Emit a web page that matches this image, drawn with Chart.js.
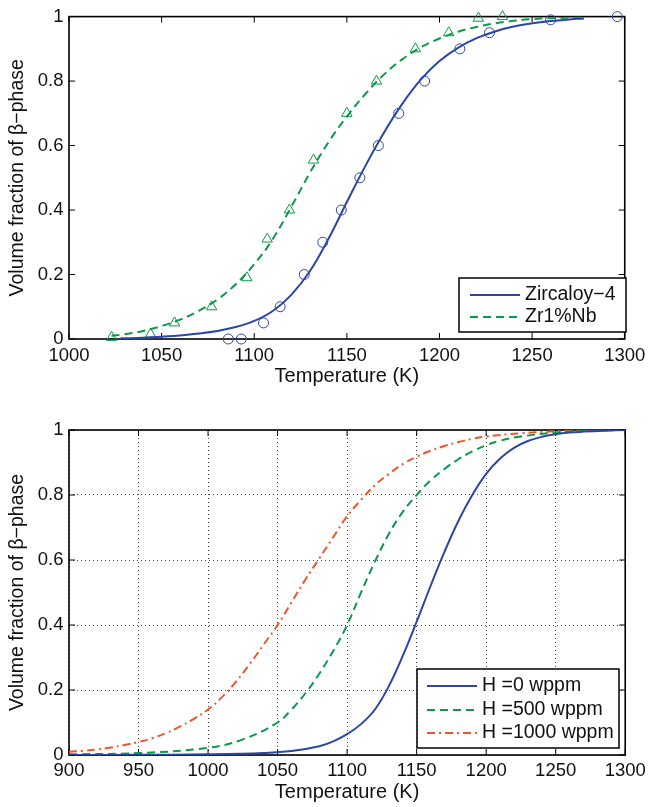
<!DOCTYPE html>
<html>
<head>
<meta charset="utf-8">
<script src="https://cdn.jsdelivr.net/npm/chart.js@4"></script>
<style>
body{margin:0;background:#fff;}
#wrap{position:relative;width:651px;height:807px;}
canvas{position:absolute;left:0;}
#c1{top:0}
#c2{top:400px}
</style>
</head>
<body>
<div id="wrap">
<canvas id="c1" width="651" height="400"></canvas>
<canvas id="c2" width="651" height="407"></canvas>
</div>
<script>
// top chart - measured points
const zircTempPts = [1086,1093,1105,1114,1127,1137,1147,1157,1167,1178,1192,1211,1227,1260,1296];
const zircFracPts = [0,0,0.05,0.1,0.2,0.3,0.4,0.5,0.6,0.7,0.8,0.9,0.95,0.99,1.0];
const nbTempPts = [1023,1044,1057,1077,1096,1107,1119,1132,1150,1166,1187,1205,1221,1234];
const nbFracPts = [0.005,0.015,0.05,0.1,0.19,0.31,0.4,0.555,0.7,0.8,0.9,0.95,0.995,1.0];

// top chart - fitted curves
const zircFitT = [1028,1040,1050,1060,1070,1080,1090,1100,1110,1120,1130,1140,1150,1160,1170,1180,1190,1200,1210,1220,1230,1240,1250,1260,1270,1278];
const zircFitY = [0.002,0.004,0.007,0.011,0.017,0.025,0.037,0.056,0.087,0.137,0.21,0.31,0.425,0.537,0.64,0.73,0.805,0.862,0.903,0.933,0.954,0.969,0.979,0.986,0.991,0.994];
const nbFitT = [1023,1030,1040,1050,1060,1070,1080,1090,1100,1110,1120,1130,1140,1150,1160,1170,1180,1190,1200,1210,1220,1230,1240,1250,1260,1278];
const nbFitY = [0.01,0.015,0.025,0.04,0.06,0.087,0.122,0.17,0.232,0.31,0.41,0.515,0.61,0.69,0.76,0.82,0.868,0.905,0.932,0.953,0.968,0.979,0.987,0.992,0.995,0.998];

// bottom chart - hydrogen content curves
const h0T = [900,950,1000,1040,1060,1080,1090,1100,1110,1120,1130,1140,1150,1160,1170,1180,1190,1200,1210,1220,1230,1240,1250,1260,1270,1285,1300];
const h0Y = [0,0.0005,0.002,0.006,0.012,0.027,0.042,0.064,0.095,0.14,0.212,0.305,0.41,0.52,0.625,0.72,0.8,0.865,0.912,0.945,0.966,0.979,0.987,0.992,0.995,0.998,1];
const h500T = [900,950,1000,1025,1050,1060,1070,1080,1090,1100,1110,1120,1130,1140,1150,1160,1170,1180,1190,1200,1210,1225,1250,1275,1300];
const h500Y = [0.002,0.006,0.022,0.048,0.1,0.14,0.19,0.25,0.32,0.4,0.5,0.595,0.68,0.748,0.8,0.845,0.88,0.91,0.934,0.953,0.967,0.98,0.992,0.998,1];
const h1000T = [900,910,920,930,940,950,960,970,980,990,1000,1010,1020,1030,1040,1050,1060,1070,1080,1090,1100,1110,1120,1130,1140,1150,1160,1170,1180,1190,1200,1225,1250,1300];
const h1000Y = [0.01,0.013,0.017,0.023,0.031,0.04,0.052,0.068,0.088,0.112,0.14,0.178,0.225,0.28,0.34,0.4,0.47,0.54,0.605,0.67,0.735,0.785,0.83,0.865,0.895,0.918,0.936,0.951,0.963,0.973,0.98,0.99,0.996,1];

const seriesLabels = ['Zircaloy\u22124','Zr1%Nb','H =0 wppm','H =500 wppm','H =1000 wppm'];

const blue = '#2b46a8';
const green = '#0a9a48';
const red = '#f0552b';
const fontFam = '"Liberation Sans", Arial, Helvetica, sans-serif';

function pts(xs, ys) {
    return xs.map((x, i) => ({x: x, y: ys[i]}));
}

// box + inward ticks like matlab
const framePlugin = {
    id: 'frame',
    beforeDatasetsDraw(chart) {
        const ctx = chart.ctx;
        const a = chart.chartArea;
        const sx = chart.scales.x, sy = chart.scales.y;
        ctx.save();
        ctx.strokeStyle = '#000';
        ctx.lineWidth = 1;
        ctx.beginPath();
        sx.ticks.forEach(t => {
            const p = sx.getPixelForValue(t.value);
            ctx.moveTo(p, a.bottom); ctx.lineTo(p, a.bottom - 6);
            ctx.moveTo(p, a.top); ctx.lineTo(p, a.top + 6);
        });
        sy.ticks.forEach(t => {
            const p = sy.getPixelForValue(t.value);
            ctx.moveTo(a.left, p); ctx.lineTo(a.left + 6, p);
            ctx.moveTo(a.right, p); ctx.lineTo(a.right - 6, p);
        });
        ctx.stroke();
        ctx.lineWidth = 1.6;
        ctx.strokeRect(a.left, a.top, a.right - a.left, a.bottom - a.top);
        ctx.restore();
    }
};

const boxLegend = {
    id: 'boxLegend',
    afterDraw(chart, args, o) {
        const ctx = chart.ctx;
        ctx.save();
        ctx.fillStyle = '#fff';
        ctx.fillRect(o.left, o.top, o.right - o.left, o.bottom - o.top);
        ctx.strokeStyle = '#000';
        ctx.lineWidth = 1.5;
        ctx.strokeRect(o.left, o.top, o.right - o.left, o.bottom - o.top);
        o.items.forEach((di, i) => {
            const ds = chart.data.datasets[di];
            const yy = o.rows[i];
            ctx.strokeStyle = ds.borderColor;
            ctx.lineWidth = ds.borderWidth;
            ctx.setLineDash(ds.borderDash || []);
            ctx.beginPath();
            ctx.moveTo(o.lineX0, yy);
            ctx.lineTo(o.lineX1, yy);
            ctx.stroke();
            ctx.setLineDash([]);
            ctx.fillStyle = '#111';
            ctx.font = '19.5px ' + fontFam;
            ctx.textBaseline = 'middle';
            ctx.textAlign = 'left';
            ctx.fillText(ds.label, o.textX, yy);
        });
        ctx.restore();
    }
};

function yFmt(v) {
    return String(+v.toFixed(1));
}

function makeScales(xmin, xmax, xH, xTickPad, xTitlePad, withGrid) {
    const gridOpt = withGrid
        ? {display: true, color: '#444', lineWidth: 1, drawTicks: false}
        : {display: false, drawTicks: false};
    return {
        x: {
            type: 'linear', min: xmin, max: xmax,
            afterFit: s => { s.height = xH; },
            ticks: {stepSize: 50, color: '#111', padding: xTickPad, font: {family: fontFam, size: 18.5}, maxRotation: 0, autoSkip: false, callback: v => String(v)},
            grid: gridOpt,
            border: {display: false, dash: [1, 3]},
            title: {display: true, text: 'Temperature (K)', color: '#111', font: {family: fontFam, size: 20}, padding: {top: 0, bottom: xTitlePad}}
        },
        y: {
            type: 'linear', min: 0, max: 1,
            afterFit: s => { s.width = 69; },
            ticks: {stepSize: 0.2, color: '#111', padding: 5.5, font: {family: fontFam, size: 18.5}, callback: yFmt},
            grid: gridOpt,
            border: {display: false, dash: [1, 3]},
            title: {display: true, text: 'Volume fraction of \u03b2\u2212phase', color: '#111', font: {family: fontFam, size: 19.5}, padding: {top: 6.3, bottom: 0}}
        }
    };
}

const lineBase = {type: 'line', pointRadius: 0, borderWidth: 2, fill: false, tension: 0.4};

const chart1 = new Chart(document.querySelector('#c1'), {
    data: {
        datasets: [
            Object.assign({}, lineBase, {label: seriesLabels[0], data: pts(zircFitT, zircFitY), borderColor: blue}),
            Object.assign({}, lineBase, {label: seriesLabels[1], data: pts(nbFitT, nbFitY), borderColor: green, borderDash: [8, 5]}),
            {type: 'scatter', label: 'zirc data', data: pts(zircTempPts, zircFracPts), showLine: false, pointStyle: 'circle', pointRadius: 5, borderColor: blue, backgroundColor: 'rgba(0,0,0,0)', borderWidth: 1, clip: false},
            {type: 'scatter', label: 'nb data', data: pts(nbTempPts, nbFracPts), showLine: false, pointStyle: 'triangle', pointRadius: 6, borderColor: green, backgroundColor: 'rgba(0,0,0,0)', borderWidth: 1, clip: false}
        ]
    },
    options: {
        responsive: false,
        animation: false,
        layout: {autoPadding: false, padding: {left: 0, right: 24, top: 14, bottom: 0}},
        scales: makeScales(1000, 1300, 61, 5.7, 11.4, false),
        plugins: {
            legend: {display: false},
            tooltip: {enabled: false},
            boxLegend: {left: 459, top: 278, right: 626, bottom: 332, lineX0: 470, lineX1: 520, textX: 525, rows: [295, 317], items: [0, 1]}
        }
    },
    plugins: [framePlugin, boxLegend]
});

const chart2 = new Chart(document.querySelector('#c2'), {
    data: {
        datasets: [
            Object.assign({}, lineBase, {label: seriesLabels[2], data: pts(h0T, h0Y), borderColor: blue}),
            Object.assign({}, lineBase, {label: seriesLabels[3], data: pts(h500T, h500Y), borderColor: green, borderDash: [8, 5]}),
            Object.assign({}, lineBase, {label: seriesLabels[4], data: pts(h1000T, h1000Y), borderColor: red, borderDash: [8, 4, 2, 4]})
        ]
    },
    options: {
        responsive: false,
        animation: false,
        layout: {autoPadding: false, padding: {left: 0, right: 24, top: 30, bottom: 0}},
        scales: makeScales(900, 1300, 52, 5.2, 2.2, true),
        plugins: {
            legend: {display: false},
            tooltip: {enabled: false},
            boxLegend: {left: 417, top: 269, right: 619, bottom: 348, lineX0: 427, lineX1: 477, textX: 482, rows: [286, 310, 333], items: [0, 1, 2]}
        }
    },
    plugins: [framePlugin, boxLegend]
});
</script>
</body>
</html>
